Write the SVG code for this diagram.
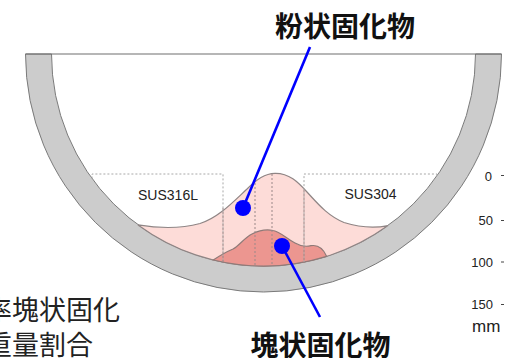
<svg xmlns="http://www.w3.org/2000/svg" width="505" height="358" viewBox="0 0 505 358">
  <style>
    .ring { fill: #cccccc; stroke: #7a7a7a; stroke-width: 1; }
    .rim { stroke: #6e6e6e; stroke-width: 1.2; fill: none; }
    .powder { fill: #fddcd8; stroke: #8f8585; stroke-width: 1.2; }
    .lump { fill: #ec9690; stroke: #8f7a78; stroke-width: 1.2; }
    .grid { fill: none; stroke: #a8a8a8; stroke-width: 1; stroke-dasharray: 2 2; }
    .grid-in { fill: none; stroke: #9a8888; stroke-width: 1; stroke-dasharray: 2 2; }
    .lead { stroke: #0000ff; stroke-width: 2.6; fill: none; }
    .dot { fill: #0000ff; }
    .grade { font-family: "Liberation Sans", Arial, sans-serif; font-size: 14px; fill: #222; }
    .axis { font-family: "Liberation Sans", Arial, sans-serif; font-size: 13px; fill: #222; }
    .unit { font-family: "Liberation Sans", Arial, sans-serif; font-size: 17px; fill: #222; }
    .title { font-family: "Noto Sans CJK JP", "Noto Sans", sans-serif; font-size: 28px; font-weight: bold; fill: #111; }
    .note { font-family: "Noto Sans CJK JP", "Noto Sans", sans-serif; font-size: 27px; fill: #222; }
  </style>

  <!-- pipe wall (half section) -->
  <g id="pipe">
    <path class="ring" d="M25.5,54 A238,238 0 0 0 501.5,54 L475.5,54 A212,212 0 0 1 51.5,54 Z"/>
    <line class="rim" x1="25.5" y1="54" x2="501.5" y2="54"/>
  </g>

  <!-- powdery deposit -->
  <g id="powder">
    <path class="powder" d="M138,224.9 C160,228.5 180,229 200,223.5 C218,218 233,202 247,189 C257,179 265,173.5 275,173.3 C289,173 298,182 307,192 C318,204 328,216 344,222.5 C360,227.5 376,228 388,225.6 A212,212 0 0 1 138,224.9 Z"/>
  </g>

  <!-- lumpy deposit -->
  <g id="lump">
    <path class="lump" d="M213.3,260 C220,255.5 226,252 233,249 C239,246 244,238 252,234 C259,230.5 266,229 273,230.5 C281,232 287,239 295,243 C300,246 305,247 311,245.7 C318,244.5 323,248 326.7,256.4 A212,212 0 0 1 213.3,260 Z"/>
  </g>

  <!-- sampling grid for the two steel grades -->
  <g id="grid">
    <path class="grid" d="M92,178.6 V174 H223 V262.1"/>
    <path class="grid" d="M304,262.1 V174 H437 V175.8"/>
    <line class="grid-in" x1="255" y1="183" x2="255" y2="265.8"/>
    <line class="grid-in" x1="272" y1="174" x2="272" y2="265.8"/>
    <line class="grid-in" x1="223" y1="208" x2="223" y2="262.1"/>
    <line class="grid-in" x1="304" y1="190" x2="304" y2="262.1"/>
  </g>

  <g id="grades">
    <text class="grade" x="168" y="200" text-anchor="middle">SUS316L</text>
    <text class="grade" x="370.5" y="199" text-anchor="middle">SUS304</text>
  </g>

  <!-- depth scale -->
  <g id="scale">
    <text class="axis" x="492" y="180.5" text-anchor="end">0</text>
    <text class="axis" x="493" y="225" text-anchor="end">50</text>
    <text class="axis" x="493" y="266.5" text-anchor="end">100</text>
    <text class="axis" x="493" y="309" text-anchor="end">150</text>
    <text class="unit" x="472" y="331.5">mm</text>
    <g stroke="#444" stroke-width="1">
      <line x1="501" y1="175.5" x2="504" y2="175.5"/>
      <line x1="501" y1="220.5" x2="504" y2="220.5"/>
      <line x1="501" y1="262" x2="504" y2="262"/>
      <line x1="501" y1="304.5" x2="504" y2="304.5"/>
    </g>
  </g>

  <!-- leaders -->
  <g id="connectors">
    <line class="lead" x1="310" y1="47" x2="243" y2="208"/>
    <circle class="dot" cx="243" cy="208" r="8"/>
    <line class="lead" x1="320" y1="317" x2="282" y2="246"/>
    <circle class="dot" cx="282" cy="246" r="8"/>
  </g>

  <g id="label-powder">
    <text class="title" x="345" y="37" text-anchor="middle">粉状固化物</text>
  </g>
  <g id="label-lump">
    <text class="title" x="320.5" y="356" text-anchor="middle">塊状固化物</text>
  </g>

  <g id="note">
    <text class="note" x="-15" y="320">率塊状固化</text>
    <text class="note" x="-15" y="355">重量割合</text>
  </g>
</svg>
